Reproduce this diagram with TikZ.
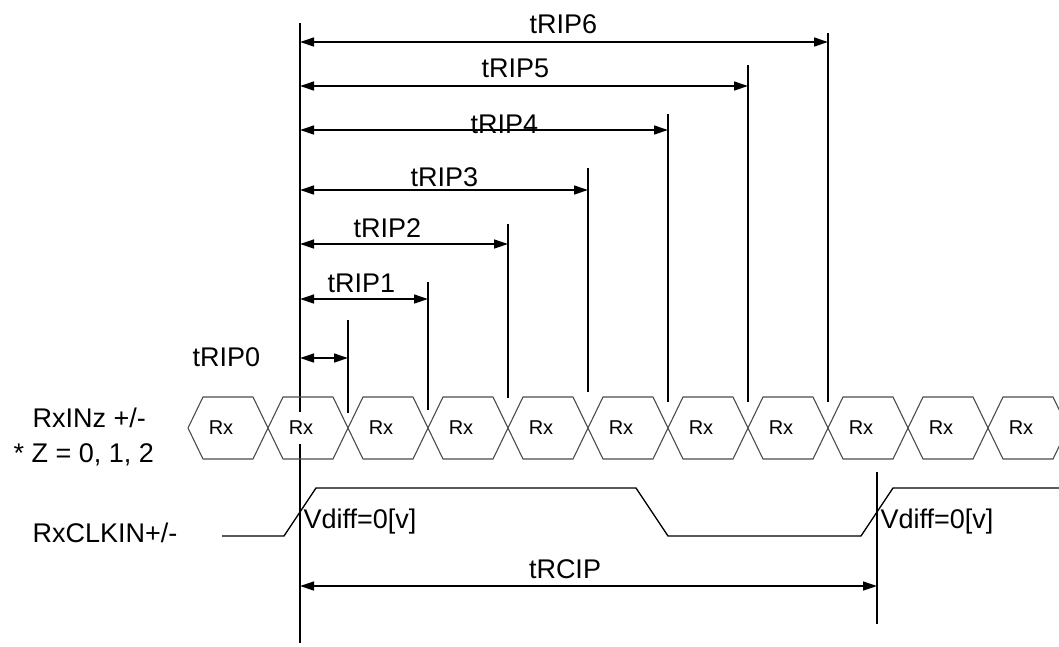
\documentclass[tikz,border=0pt]{standalone}
\usepackage{fontspec}
\setsansfont{Liberation Sans}
\usetikzlibrary{arrows.meta}

\begin{document}
\begin{tikzpicture}[x=1pt,y=-1pt,line width=1.3pt,font=\sffamily\fontsize{27}{30}\selectfont,
	dim/.style={{Triangle[length=14pt,width=9pt]}-{Triangle[length=14pt,width=9pt]}},
	hexa/.style={draw=black!70,line width=1.1pt},
	rxlabel/.style={font=\sffamily\fontsize{20}{22}\selectfont,fill=white,inner sep=1pt,minimum height=32pt},
	lbl/.style={anchor=base west,inner sep=0pt}]
	\useasboundingbox (0,0) rectangle (1059,646);

	%reference line
	\draw (300,23) -- (300,643);

	%data eye row
	\foreach \k in {0,...,10}{
		\pgfmathsetmacro\cx{228+80*\k}
		\draw[hexa] (\cx-40,428) -- (\cx-25,397) -- (\cx+25,397) -- (\cx+40,428)
		  -- (\cx+25,459) -- (\cx-25,459) -- cycle;
		\node[rxlabel] (rx\k) at (\cx-7,428) {Rx};
	}

	%strobe positions
	\foreach \n/\ya/\yt/\yb in {0/358/320/413,1/299/282/410,2/244/224/398,3/190/168/392,
	  4/130/114/402,5/86/65/402,6/42/33/402}{
		\coordinate (s\n) at (300,\ya);
		\coordinate (e\n) at (348+80*\n,\ya);
		\draw (348+80*\n,\yt) -- (348+80*\n,\yb); %marker
		\draw[dim] (s\n) -- (e\n);
	}

	%labels
	\node[lbl] (l0) at (192,366) {tRIP0};
	\node[lbl] (l1) at (327,292) {tRIP1};
	\node[lbl] (l2) at (353,237) {tRIP2};
	\node[lbl] (l3) at (410,186) {tRIP3};
	\node[lbl] (l4) at (470,133) {tRIP4};
	\node[lbl] (l5) at (481,77) {tRIP5};
	\node[lbl] (l6) at (529,33) {tRIP6};

	%signal names
	\node[lbl] (rxin) at (32,427) {RxINz +/-};
	\node[lbl] (zval) at (13,462) {* Z = 0, 1, 2};
	\node[lbl] (clk) at (32,542) {RxCLKIN+/-};

	%clock
	\draw (222,536) -- (284,536) -- (316,488) -- (636,488) -- (668,536)
	  -- (861,536) -- (893,488) -- (1059,488);
	\node[lbl] (vd0) at (303,528) {Vdiff=0[v]};
	\node[lbl] (vd1) at (880,528) {Vdiff=0[v]};

	%clock period
	\draw (877,472) -- (877,624);
	\coordinate (c0) at (300,586);
	\coordinate (c1) at (877,586);
	\draw[dim] (c0) -- (c1);
	\node[anchor=base,inner sep=0pt] (lc) at (565,578) {tRCIP};
\end{tikzpicture}
\end{document}
